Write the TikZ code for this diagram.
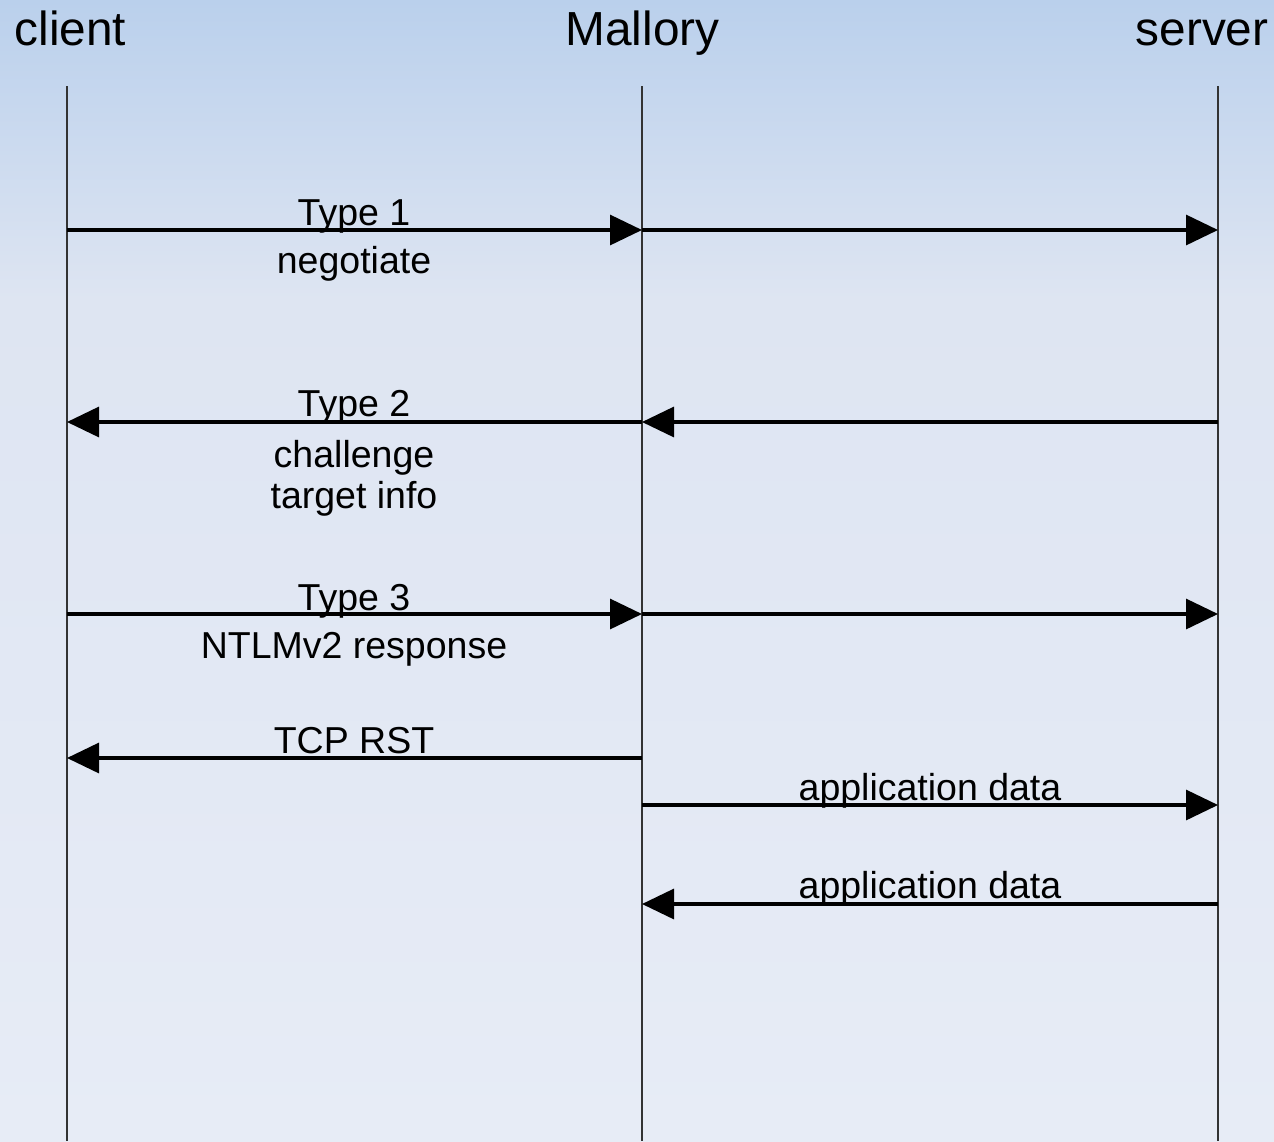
\documentclass[tikz,border=0pt]{standalone}
\usepackage{fontspec}
\setmainfont{Liberation Sans}
\usetikzlibrary{arrows.meta}
\definecolor{bgtop}{HTML}{BAD0EC}
\definecolor{bgmid}{HTML}{DEE5F2}
\definecolor{bgbot}{HTML}{E7ECF6}
\definecolor{lifec}{HTML}{333333}
\tikzset{
  head/.style={font=\fontsize{23.9}{28}\selectfont, anchor=base, inner sep=0pt},
  lbl/.style={font=\fontsize{18.75}{22}\selectfont, anchor=base, inner sep=0pt},
  life/.style={draw=lifec, line width=0.6pt},
  msg/.style={draw=black, line width=1.6pt, -{Triangle[length=16pt,width=15pt]}},
}
\begin{document}
\begin{tikzpicture}[x=0.5pt,y=-0.5pt]
\useasboundingbox (0,0) rectangle (1274,1141);
\shade[top color=bgtop, bottom color=bgmid] (0,0) rectangle (1274,300);
\shade[top color=bgmid, bottom color=bgbot] (0,299.5) rectangle (1274,1141);
% headers
\node[head] (hc) at (70.5,45) {client};
\node[head] (hm) at (642.5,45) {Mallory};
\node[head] (hs) at (1202,45) {server};
% lifelines
\coordinate (ct) at (67,86); \coordinate (cb) at (67,1141);
\coordinate (mt) at (642,86); \coordinate (mb) at (642,1141);
\coordinate (st) at (1218,86); \coordinate (sb) at (1218,1141);
\draw[life] (ct) -- (cb);
\draw[life] (mt) -- (mb);
\draw[life] (st) -- (sb);
% message anchor points
\foreach \n/\y in {1/230,2/422,3/614,4/758,5/805,6/904}{
  \coordinate (c\n) at (67,\y);
  \coordinate (m\n) at (642,\y);
  \coordinate (s\n) at (1218,\y);
}
% labels
\node[lbl] (t1) at (354,225) {Type 1};
\node[lbl] (n1) at (354,273) {negotiate};
\node[lbl] (t2) at (354,416) {Type 2};
\node[lbl] (n2a) at (354,467) {challenge};
\node[lbl] (n2b) at (354,508) {target info};
\node[lbl] (t3) at (354,610) {Type 3};
\node[lbl] (n3) at (354,658) {NTLMv2 response};
\node[lbl] (t4) at (354,753) {TCP RST};
\node[lbl] (t5) at (930,800) {application data};
\node[lbl] (t6) at (930,898) {application data};
% messages
\draw[msg] (c1) -- (m1);
\draw[msg] (m1) -- (s1);
\draw[msg] (s2) -- (m2);
\draw[msg] (m2) -- (c2);
\draw[msg] (c3) -- (m3);
\draw[msg] (m3) -- (s3);
\draw[msg] (m4) -- (c4);
\draw[msg] (m5) -- (s5);
\draw[msg] (s6) -- (m6);
\end{tikzpicture}
\end{document}
